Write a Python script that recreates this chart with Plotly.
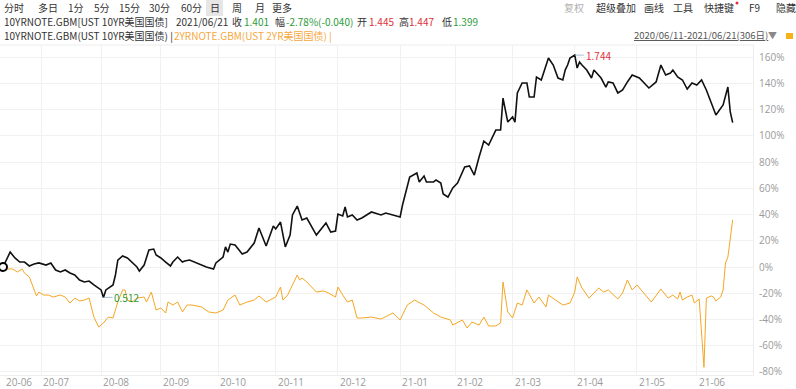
import plotly.graph_objects as go

# ---------------- data ----------------
# trading-day index (0 = 2020/06/11) and % change vs first day
t10_days = [0,3,5,7,9,11,13,15,18,20,22,24,26,28,30,32,34,36,38,41,42,43,46,47,48,50,52,54,56,57,
            59,61,63,64,66,68,70,71,73,75,76,78,80,82,85,88,89,92,93,94,95,97,100,102,105,107,110,113,114,116,
            118,120,121,123,125,127,129,131,135,137,139,140,142,143,144,146,148,150,154,158,160,163,166,167,170,173,174,176,177,180,
            181,183,184,186,188,190,193,195,197,199,201,203,206,208,209,211,213,214,215,217,219,220,222,223,225,228,230,232,234,235,
            236,237,239,240,241,242,244,246,247,250,252,253,255,257,259,261,263,266,270,273,275,277,279,280,282,284,286,288,290,292,
            294,298,301,303,304,305]
t10_pct = [0,11.4,6.9,3.8,3.8,0.8,2.3,3.1,1.5,3.1,-2.3,-3.8,-2.3,-4.6,-6.1,-9.9,-11.4,-10.7,-13.7,-17.5,-23.18,-17.5,-13.7,-6.1,5.3,8.4,6.9,3.8,0,-3.1,
           1.5,13.0,13.7,9.2,6.9,3.8,0.8,3.8,7.6,3.8,4.6,5.3,3.8,2.3,0,-1.5,3.1,7.6,15.3,11.4,17.5,16.8,9.9,11.4,18.3,29.8,16.0,31.3,29.0,34.3,
           15.3,24.4,39.7,46.5,35.9,37.4,30.5,24.4,33.6,26.7,27.5,40.4,38.9,45.8,38.2,39.7,35.9,37.4,42.0,39.7,41.2,39.7,38.2,47.3,68.7,71.7,64.9,69.4,64.9,64.9,
           66.4,64.1,55.7,53.4,60.3,64.1,76.3,77.1,70.2,83.9,96.1,93.1,104.5,104.5,128.9,110.6,114.5,110.6,132.8,140.4,140.4,129.7,129.7,145.0,142.7,159.5,154.1,144.2,142.7,150.3,
           154.1,159.5,161.67,151.8,156.4,154.1,150.3,144.2,150.3,144.2,137.3,141.2,140.4,132.8,135.1,141.2,146.5,144.2,136.6,141.2,154.1,146.5,148.0,150.3,145.0,142.7,135.8,140.4,138.9,142.7,
           135.1,116.0,123.6,137.3,118.3,110.2]
t10_base_yield = 0.6665

t2_days = [0,2,4,6,8,9,11,13,14,15,17,19,21,24,26,28,30,32,34,36,38,40,42,44,46,48,50,51,52,54,
           56,59,60,62,64,66,68,69,71,73,75,77,79,83,86,89,92,94,96,97,99,102,105,107,110,114,116,117,119,123,
           124,125,127,131,134,136,139,140,142,144,146,148,150,154,158,163,166,169,172,176,180,183,187,188,192,194,196,199,201,203,
           206,208,209,211,213,215,217,219,222,224,227,228,231,234,237,239,240,242,245,249,251,253,257,259,261,263,265,268,271,275,
           278,280,282,283,284,286,288,289,291,293,294,296,297,298,300,301,302,303,304,305]
t2_pct = [0,-1.5,-1.5,-3.8,-1.5,-4.6,-7.6,-17.5,-22.1,-19.1,-21.4,-21.4,-22.9,-21.4,-22.9,-27.5,-23.7,-25.9,-25.2,-23.7,-38.2,-45.8,-42.7,-38.2,-38.9,-26.7,-17.5,-17.5,-25.2,-26.7,
          -23.7,-22.9,-26.7,-19.1,-32.8,-31.3,-35.1,-26.7,-29.0,-26.7,-34.3,-29.0,-29.0,-30.5,-34.3,-35.1,-32.8,-25.2,-22.9,-21.4,-29.0,-26.7,-25.2,-22.1,-26.7,-22.9,-15.3,-25.2,-21.4,-6.1,
          -9.9,-8.4,-11.4,-19.1,-18.3,-19.8,-22.9,-15.3,-21.4,-26.7,-25.2,-38.9,-38.9,-38.2,-39.7,-35.1,-40.4,-29.0,-25.2,-29.0,-35.1,-38.2,-40.4,-44.3,-40.4,-46.5,-42.0,-44.3,-38.2,-45.0,
          -45.0,-42.7,-11.4,-34.3,-38.9,-27.5,-29.0,-17.5,-27.5,-22.9,-30.5,-21.4,-25.2,-29.0,-27.5,-19.1,-7.6,-16.0,-23.7,-16.0,-19.1,-17.5,-24.4,-19.8,-9.9,-17.5,-13.7,-19.8,-26.7,-16.8,
          -23.7,-21.4,-24.4,-19.1,-25.2,-22.9,-21.4,-27.5,-24.4,-76.5,-23.7,-22.1,-22.9,-25.9,-22.9,-17.5,3.1,7.6,20.6,35.9]

month_days = [0,16,41,66,90,114,140,166,189,213,239,265,290]
month_labels = ["20-06","20-07","20-08","20-09","20-10","20-11","20-12","21-01","21-02","21-03","21-04","21-05","21-06"]
y_ticks = [-80,-60,-40,-20,0,20,40,60,80,100,120,140,160]

# ---------------- figure ----------------
W, H = 796, 389
ML, MR, MT, MB = 0, 43, 45, 14
PW, PH = W - ML - MR, H - MT - MB
CJK = "Noto Sans CJK SC"
BLACK_LINE = "#111111"
ORANGE = "#f5a623"
GREEN = "#2e9b3a"
RED = "#e0313a"

fig = go.Figure()
fig.add_trace(go.Scatter(x=t2_days, y=t2_pct, mode="lines",
                         line=dict(color=ORANGE, width=1), hoverinfo="skip"))
fig.add_trace(go.Scatter(x=t10_days, y=t10_pct, mode="lines",
                         line=dict(color=BLACK_LINE, width=1.6), hoverinfo="skip"))
fig.add_trace(go.Scatter(x=[t10_days[0]], y=[t10_pct[0]], mode="markers", cliponaxis=False,
                         marker=dict(symbol="circle", size=8, color="white",
                                     line=dict(color="black", width=2)), hoverinfo="skip"))

# max / min annotations
imax = max(range(len(t10_pct)), key=lambda i: t10_pct[i])
imin = min(range(len(t10_pct)), key=lambda i: t10_pct[i])
for idx, col in ((imax, RED), (imin, GREEN)):
    val = t10_base_yield * (1 + t10_pct[idx] / 100)
    fig.add_annotation(x=t10_days[idx], y=t10_pct[idx], text=f"{val:.3f}",
                       showarrow=True, arrowhead=0, arrowwidth=0.8, arrowcolor="#8fb0c8",
                       ax=9, ay=0, xanchor="left", yanchor="middle",
                       font=dict(family=CJK, size=10, color=col))

def px2paper(px):
    return (px - ML) / PW

def py2paper(py):
    return (H - MB - py) / PH

# x tick labels (left aligned at gridlines)
for d, lab in zip(month_days, month_labels):
    fig.add_annotation(x=d, y=0, xref="x", yref="paper", text=lab, showarrow=False,
                       xanchor="left", yanchor="top", xshift=1 if d else 2, yshift=1,
                       borderpad=0,
                       font=dict(family="Open Sans", size=10, color="#9a9a9a"))

def txt(px, py, text, color="#333333", size=10, family=CJK):
    fig.add_annotation(x=px2paper(px), y=py2paper(py), xref="paper", yref="paper",
                       text=text, showarrow=False, xanchor="left", yanchor="middle",
                       borderpad=0,
                       font=dict(family=family, size=size, color=color))

# header line 1
fig.add_shape(type="rect", xref="paper", yref="paper",
              x0=px2paper(206), x1=px2paper(223), y0=py2paper(16), y1=py2paper(0),
              fillcolor="#e6e6e6", line=dict(width=0), layer="below")
for px, t in [(3, "分时"), (37, "多日"), (67, "1分"), (93, "5分"), (118, "15分"), (148, "30分"),
              (180, "60分"), (209, "日"), (231, "周"), (254, "月"), (271, "更多")]:
    txt(px, 7.5, t)
for px, t, c in [(563, "复权", "#b0b0b0"), (595, "超级叠加", "#333333"), (643, "画线", "#333333"),
                 (672, "工具", "#333333"), (703, "快捷键", "#333333"), (748, "F9", "#333333"),
                 (775, "隐藏", "#333333")]:
    txt(px, 7.5, t, color=c)
fig.add_shape(type="circle", xref="paper", yref="paper",
              x0=px2paper(735.5), x1=px2paper(738.5), y0=py2paper(4.5), y1=py2paper(1.5),
              fillcolor=RED, line=dict(width=0))

# header line 2
for px, t, c in [(3, "10YRNOTE.GBM[UST 10YR美国国债]", "#333333"), (175, "2021/06/21", "#333333"),
                 (231, "收", "#333333"), (243, "1.401", GREEN), (274, "幅", "#333333"),
                 (285, "-2.78%(-0.040)", GREEN), (356, "开", "#333333"), (368, "1.445", RED),
                 (398, "高", "#333333"), (408, "1.447", RED), (441, "低", "#333333"),
                 (452, "1.399", GREEN)]:
    txt(px, 21.5, t, color=c)

# header line 3
txt(3, 35.5, "10YRNOTE.GBM(UST 10YR美国国债) | ")
txt(173, 35.5, "2YRNOTE.GBM(UST 2YR美国国债) |", color="#f5a840")
txt(633, 35.5, "<u>2020/06/11-2021/06/21(306日)</u>", color="#555555", size=9.5)
txt(767, 35.5, "▼", color="#888888", size=9)
fig.add_shape(type="rect", xref="paper", yref="paper",
              x0=px2paper(786), x1=px2paper(793), y0=py2paper(39), y1=py2paper(33),
              fillcolor="#f5b21a", line=dict(width=0))

# top separator of plot
fig.add_shape(type="line", xref="paper", yref="paper", x0=0, x1=1, y0=1, y1=1,
              line=dict(color="#ececec", width=1))

fig.update_layout(
    width=W, height=H, margin=dict(l=ML, r=MR, t=MT, b=MB),
    paper_bgcolor="white", plot_bgcolor="white", showlegend=False,
    xaxis=dict(range=[-1.25, 313.5], tickvals=month_days[1:], showticklabels=False,
               showgrid=True, gridcolor="#f1f1f1", gridwidth=1, zeroline=False,
               showline=True, linecolor="#eeeeee", mirror=False, fixedrange=True),
    yaxis=dict(range=[-82.4, 169.4], side="right", tickvals=y_ticks,
               ticktext=[f"{v}%" for v in y_ticks], showgrid=True, gridcolor="#f1f1f1",
               zeroline=False, showline=True, linecolor="#eeeeee", ticks="",
               ticklabelstandoff=3,
               tickfont=dict(family="Open Sans", size=10, color="#9a9a9a"), fixedrange=True),
)

fig.write_html("out.html", config={"displayModeBar": False},
               post_script="document.body.style.margin='0';")
